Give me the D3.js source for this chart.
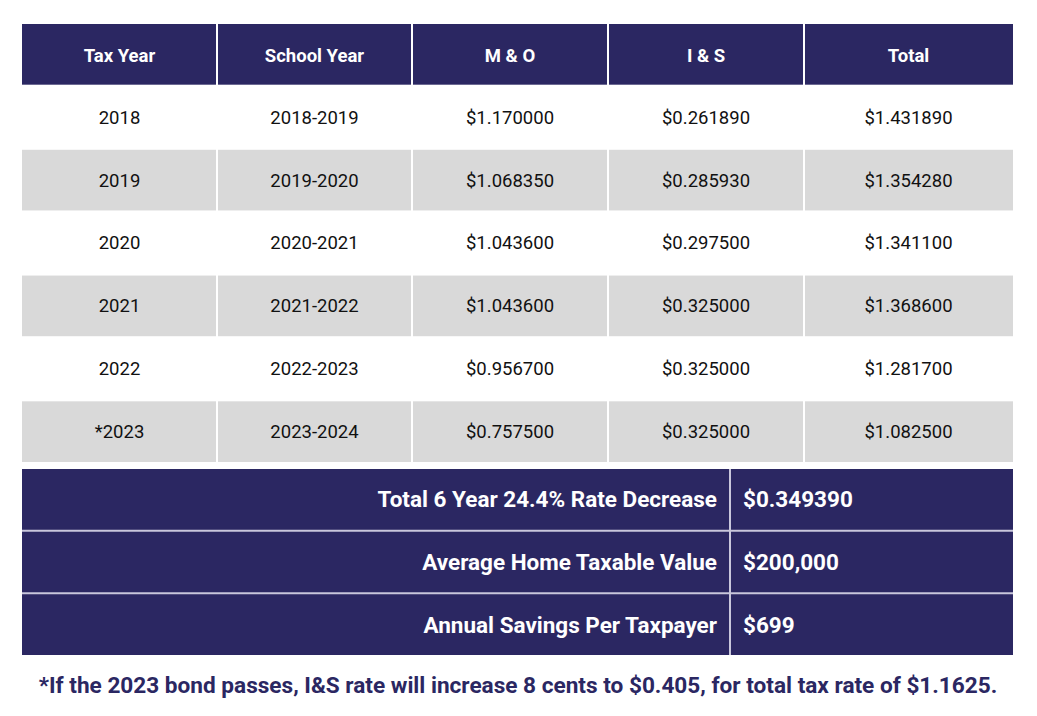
<!DOCTYPE html>
<html>
<head>
<meta charset="utf-8">
<script src="https://cdn.jsdelivr.net/npm/d3@7"></script>
<style>
  body { margin: 0; background: #fff; }
  svg { display: block; font-family: Roboto, sans-serif; }
</style>
</head>
<body>
<svg width="1037" height="716"></svg>
<script>
// Table data
const headers = ['Tax Year', 'School Year', 'M & O', 'I & S', 'Total'];
const taxYears = ['2018', '2019', '2020', '2021', '2022', '*2023'];
const schoolYears = ['2018-2019', '2019-2020', '2020-2021', '2021-2022', '2022-2023', '2023-2024'];
const mo = ['$1.170000', '$1.068350', '$1.043600', '$1.043600', '$0.956700', '$0.757500'];
const is = ['$0.261890', '$0.285930', '$0.297500', '$0.325000', '$0.325000', '$0.325000'];
const totals = ['$1.431890', '$1.354280', '$1.341100', '$1.368600', '$1.281700', '$1.082500'];
const summaryLabels = ['Total 6 Year 24.4% Rate Decrease', 'Average Home Taxable Value', 'Annual Savings Per Taxpayer'];
const summaryValues = ['$0.349390', '$200,000', '$699'];
const footnote = '*If the 2023 bond passes, I&S rate will increase 8 cents to $0.405, for total tax rate of $1.1625.';

const navy = '#2b2762';
const gray = '#d9d9d9';

const svg = d3.select('svg');

// Column edges (last column is a bit wider)
const colEdges = [22, 217, 412, 608, 804, 1013];
const cols = headers.map((h, i) => ({ x0: colEdges[i], x1: colEdges[i + 1] }));

// Rows: header + 6 data rows
const rowKeys = ['head'].concat(taxYears);
const y = d3.scaleBand().domain(rowKeys).range([24, 462]).paddingInner(0.035).paddingOuter(0);

const rows = taxYears.map((t, i) => [t, schoolYears[i], mo[i], is[i], totals[i]]);

// Header
const head = svg.append('g');
head.selectAll('rect')
  .data(headers)
  .enter()
  .append('rect')
  .attr('x', (d, i) => cols[i].x0 + (i ? 1 : 0))
  .attr('y', y('head'))
  .attr('width', (d, i) => cols[i].x1 - cols[i].x0 - (i ? 1 : 0) - (i < 4 ? 1 : 0))
  .attr('height', y.bandwidth())
  .attr('fill', navy);
head.selectAll('text')
  .data(headers)
  .enter()
  .append('text')
  .attr('x', (d, i) => (cols[i].x0 + cols[i].x1) / 2)
  .attr('y', y('head') + y.bandwidth() / 2 + 1)
  .attr('dy', '0.35em')
  .attr('text-anchor', 'middle')
  .attr('fill', '#fff')
  .attr('font-weight', 700)
  .attr('font-size', 18.5)
  .text((d) => d);

// Body rows
const body = svg.append('g');
const rowG = body.selectAll('g')
  .data(rows)
  .enter()
  .append('g')
  .attr('transform', (d, i) => 'translate(0,' + y(taxYears[i]) + ')');

rowG.selectAll('rect')
  .data((d, ri) => d.map((v, ci) => ({ v, ci, ri })))
  .enter()
  .append('rect')
  .attr('x', (d) => cols[d.ci].x0 + (d.ci ? 1 : 0))
  .attr('y', 0)
  .attr('width', (d) => cols[d.ci].x1 - cols[d.ci].x0 - (d.ci ? 1 : 0) - (d.ci < 4 ? 1 : 0))
  .attr('height', y.bandwidth())
  .attr('fill', (d) => (d.ri % 2 ? gray : '#fff'));

rowG.selectAll('text')
  .data((d) => d)
  .enter()
  .append('text')
  .attr('x', (d, i) => (cols[i].x0 + cols[i].x1) / 2)
  .attr('y', y.bandwidth() / 2)
  .attr('dy', '0.35em')
  .attr('text-anchor', 'middle')
  .attr('fill', '#111')
  .attr('font-size', 18.5)
  .text((d) => d);

// Summary block
const ys = d3.scaleBand().domain(summaryLabels).range([469, 655]).paddingInner(0.03);
const split = 730;
const sum = svg.append('g');
sum.append('rect')
  .attr('x', 22)
  .attr('y', 469)
  .attr('width', 1013 - 22)
  .attr('height', 655 - 469)
  .attr('fill', navy);

summaryLabels.slice(1).forEach((d) => {
  sum.append('line')
    .attr('x1', 22).attr('x2', 1013)
    .attr('y1', ys(d) - ys.step() * ys.paddingInner() / 2)
    .attr('y2', ys(d) - ys.step() * ys.paddingInner() / 2)
    .attr('stroke', '#c9c7dc')
    .attr('stroke-width', 2);
});
sum.append('line')
  .attr('x1', split).attr('x2', split)
  .attr('y1', 469).attr('y2', 655)
  .attr('stroke', '#c9c7dc')
  .attr('stroke-width', 2);

sum.selectAll('text.lab')
  .data(summaryLabels)
  .enter()
  .append('text')
  .attr('class', 'lab')
  .attr('x', split - 13)
  .attr('y', (d) => ys(d) + ys.bandwidth() / 2)
  .attr('dy', '0.35em')
  .attr('text-anchor', 'end')
  .attr('fill', '#fff')
  .attr('font-weight', 700)
  .attr('font-size', 22.5)
  .text((d) => d);

sum.selectAll('text.val')
  .data(summaryValues)
  .enter()
  .append('text')
  .attr('class', 'val')
  .attr('x', split + 13)
  .attr('y', (d, i) => ys(summaryLabels[i]) + ys.bandwidth() / 2)
  .attr('dy', '0.35em')
  .attr('fill', '#fff')
  .attr('font-weight', 700)
  .attr('font-size', 22.5)
  .text((d) => d);

// Footnote
svg.append('text')
  .attr('x', 518)
  .attr('y', 685)
  .attr('dy', '0.35em')
  .attr('text-anchor', 'middle')
  .attr('fill', navy)
  .attr('font-weight', 700)
  .attr('font-size', 22.6)
  .text(footnote);
</script>
</body>
</html>
